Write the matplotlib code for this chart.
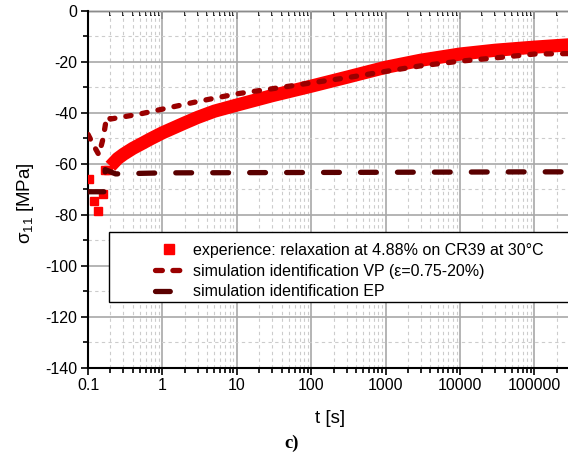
import matplotlib
matplotlib.use("Agg")
import matplotlib.pyplot as plt
from matplotlib.lines import Line2D
from matplotlib.patches import Rectangle
from matplotlib.ticker import FixedLocator, FuncFormatter, MultipleLocator, NullFormatter

plt.rcParams['font.family'] = ['Liberation Sans', 'DejaVu Sans']
plt.rcParams['mathtext.fontset'] = 'custom'
plt.rcParams['mathtext.rm'] = 'Liberation Sans'
plt.rcParams['mathtext.it'] = 'Liberation Sans:italic'

# ---------------- data ----------------
exp_t_pts = [0.104, 0.12, 0.138, 0.161, 0.167, 0.186]
exp_s_pts = [-66, -74.5, -78.5, -72, -62.3, -62.4]

exp_t_curve = [0.2, 0.25, 0.3, 0.4, 0.5, 0.7, 1, 2, 3, 5, 10, 30, 100, 300,
               1000, 3000, 1e4, 3e4, 1e5, 3.2e5]
exp_s_curve = [-61, -58, -56.3, -54, -52.5, -50.2, -47.9, -44.0, -41.8, -39.4,
               -37.0, -33.3, -29.6, -26.1, -22.2, -19.4, -17.0, -15.5, -14.3, -13.3]

vp_t = [0.1, 0.12, 0.14, 0.16, 0.175, 0.185, 0.2, 0.25, 0.5, 1, 3, 10, 30, 100,
        300, 1000, 3000, 1e4, 3e4, 1e5, 3.2e5]
vp_s = [-48.5, -53, -56.5, -50, -43, -41.5, -42.5, -42, -40.5, -38.6, -35.6,
        -32.6, -30.6, -28.3, -26.3, -23.8, -21.6, -19.8, -18.5, -17, -16.8]

ep_t = [0.1, 0.17, 0.17, 0.235, 1, 1e5, 3.2e5]
ep_s = [-71, -71, -62.3, -64, -63.6, -63.2, -63.2]

x_major = [0.1, 1, 10, 100, 1000, 10000, 100000]
x_labels = ['0.1', '1', '10', '100', '1000', '10000', '100000']

legend_labels = ['experience: relaxation at 4.88% on CR39 at 30°C',
                 'simulation identification VP (ε=0.75-20%)',
                 'simulation identification EP']

c_red = '#ff0000'
c_vp = '#9a0000'
c_ep = '#5a0000'

# ---------------- figure ----------------
W, H = 568, 454
fig = plt.figure(figsize=(W / 100, H / 100), dpi=100)
ax_l, ax_r, ax_t, ax_b = 88, 572, 10.7, 367.7
ax = fig.add_axes([ax_l / W, 1 - ax_b / H, (ax_r - ax_l) / W, (ax_b - ax_t) / H])
ax.set_xscale('log')
ax.set_xlim(0.1, 10 ** (-1 + (ax_r - ax_l) / 74.4))
ax.set_ylim(-140, 0)

# grid
ax.set_axisbelow(True)
ax.grid(which='major', color='#a8a8a8', lw=1.2, ls='-')
ax.grid(which='minor', color='#cccccc', lw=0.8, ls=(0, (3, 3)))

# data
ax.plot(exp_t_curve, exp_s_curve, color=c_red, lw=9.5, solid_capstyle='butt',
        solid_joinstyle='round', zorder=3)
ax.plot(exp_t_pts, exp_s_pts, ls='none', marker='s', ms=5.5, color=c_red,
        mec=c_red, zorder=3)
ax.plot(vp_t, vp_s, color=c_vp, lw=3.8, ls=(0, (1.0, 2.1)),
        dash_capstyle='round', zorder=4)
ax.plot(ep_t, ep_s, color=c_ep, lw=3.8, ls=(0, (3.0, 4.0)),
        dash_capstyle='round', zorder=4)

# ticks
ax.xaxis.set_major_locator(FixedLocator(x_major))
ax.xaxis.set_major_formatter(FuncFormatter(lambda v, p: x_labels[x_major.index(v)] if v in x_major else ''))
ax.xaxis.set_minor_formatter(NullFormatter())
ax.yaxis.set_major_locator(MultipleLocator(20))
ax.yaxis.set_minor_locator(MultipleLocator(10))
ax.yaxis.set_major_formatter(FuncFormatter(lambda v, p: '%d' % v))
ax.tick_params(which='both', direction='out', labelsize=11.5, width=1.2,
               top=False, right=False, colors='black')
ax.tick_params(which='major', length=5, pad=2.5)
ax.tick_params(which='minor', length=3.5)

for s in ['left', 'bottom']:
    ax.spines[s].set_linewidth(1.5)
ax.spines['top'].set_visible(False)
ax.spines['right'].set_visible(False)

sec = ax.secondary_xaxis('top')
sec.xaxis.set_major_locator(FixedLocator(x_major))
sec.tick_params(which='both', direction='in', labeltop=False, width=1.2)
sec.tick_params(which='major', length=6)
sec.tick_params(which='minor', length=3.5)
sec.xaxis.set_minor_formatter(NullFormatter())
sec.spines['top'].set_linewidth(1.0)

ax.set_xlabel('t [s]', fontsize=13.5, labelpad=12)
ax.set_ylabel('σ$_{11}$ [MPa]', fontsize=13.5)
ax.yaxis.set_label_coords((36 - ax_l) / (ax_r - ax_l), 0.462)

# legend box
lx0 = (109 - ax_l) / (ax_r - ax_l)
ly0 = (ax_b - 301.7) / (ax_b - ax_t)
ly1 = (ax_b - 232.3) / (ax_b - ax_t)
ax.add_patch(Rectangle((lx0, ly0), 1.2, ly1 - ly0, transform=ax.transAxes,
                       facecolor='white', edgecolor='black', lw=1.0, zorder=5,
                       clip_on=False))
handles = [Line2D([], [], ls='none', marker='s', ms=7, color=c_red),
           Line2D([], [], color=c_vp, lw=3.8, ls=(0, (1.3, 2.0)), dash_capstyle='round'),
           Line2D([], [], color=c_ep, lw=3.8, ls=(0, (2.8, 10)), dash_capstyle='round')]
leg = ax.legend(handles, legend_labels, loc='upper left', frameon=False,
                bbox_to_anchor=(155 / W, 1 - 243 / H), bbox_transform=fig.transFigure,
                fontsize=11.5, borderpad=0, borderaxespad=0, handlelength=1.7,
                handletextpad=0.68, labelspacing=0.36)
leg.set_zorder(6)

fig.text(292 / W, 1 - 443 / H, 'c)', ha='center', va='center',
         family='Liberation Serif', weight='bold', fontsize=13.5)

fig.savefig('out.png', dpi=100)
